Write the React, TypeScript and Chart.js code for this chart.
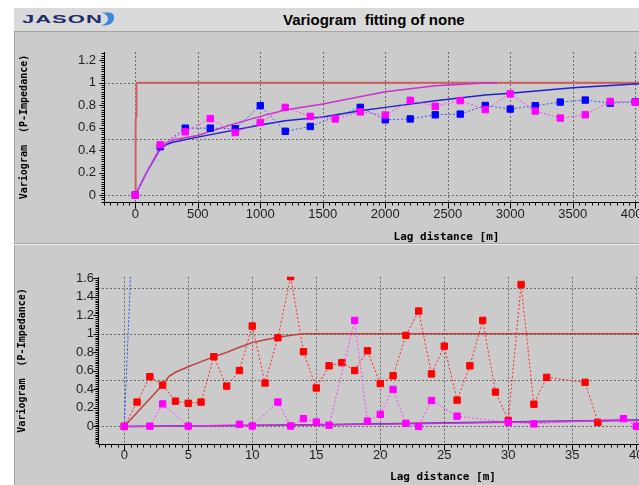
import React, { useEffect, useRef } from 'react';
import { Chart, registerables } from 'chart.js';

Chart.register(...registerables);

// ---------- Top chart (lag in metres) ----------
const TOP_X_TICKS = [0, 500, 1000, 1500, 2000, 2500, 3000, 3500, 4000, 4500, 5000];
const TOP_Y_TICKS = [0, 0.2, 0.4, 0.6, 0.8, 1, 1.2];
const TOP_Y_GRID = [0, 0.5, 1];

const TOP_BLUE_LAG = [0, 200, 400, 600, 800, 1000, 1200, 1400, 1800, 2000, 2200, 2400, 2600, 2800, 3000, 3200, 3400, 3600, 3800, 4000, 4200];
const TOP_BLUE_VAL = [0, 0.43, 0.595, 0.595, 0.59, 0.795, 0.567, 0.61, 0.78, 0.67, 0.677, 0.714, 0.72, 0.797, 0.765, 0.795, 0.827, 0.845, 0.818, 0.83, 0.84];

const TOP_MAG_LAG = [0, 200, 400, 600, 800, 1000, 1200, 1400, 1600, 1800, 2000, 2200, 2400, 2600, 2800, 3000, 3200, 3400, 3600, 3800, 4000, 4200];
const TOP_MAG_VAL = [0, 0.446, 0.5625, 0.68, 0.556, 0.646, 0.78, 0.7, 0.677, 0.74, 0.712, 0.843, 0.79, 0.84, 0.76, 0.9, 0.747, 0.685, 0.714, 0.833, 0.827, 0.8];

const TOP_BLUE_MODEL_LAG = [0, 100, 200, 250, 300, 500, 1000, 1200, 1500, 1800, 2000, 2400, 2800, 3000, 3500, 4000, 4500, 5230];
const TOP_BLUE_MODEL_VAL = [0, 0.22, 0.41, 0.45, 0.47, 0.515, 0.623, 0.66, 0.695, 0.75, 0.78, 0.84, 0.89, 0.905, 0.955, 0.988, 1.0, 1.0];

const TOP_MAG_MODEL_LAG = [0, 100, 200, 250, 300, 500, 750, 1000, 1200, 1500, 2000, 2400, 2800, 2900];
const TOP_MAG_MODEL_VAL = [0, 0.22, 0.41, 0.46, 0.49, 0.53, 0.62, 0.7, 0.757, 0.81, 0.92, 0.972, 0.997, 1.0];

const RED_MODEL_LAG = [0, 1, 2, 3, 3.5, 4, 5, 6, 7, 8, 9, 10, 11, 12, 13, 14, 5230];
const RED_MODEL_VAL = [0, 0.15, 0.3, 0.45, 0.54, 0.585, 0.645, 0.7, 0.753, 0.8, 0.855, 0.905, 0.935, 0.96, 0.985, 1, 1];

// ---------- Bottom chart (short lags) ----------
const BOT_X_TICKS = [0, 5, 10, 15, 20, 25, 30, 35, 40, 45, 50];
const BOT_Y_TICKS = [0, 0.2, 0.4, 0.6, 0.8, 1, 1.2, 1.4, 1.6];
const BOT_Y_GRID = [0, 0.5, 1, 1.5];

const BOT_RED_LAG = [0, 1, 2, 3, 4, 5, 6, 7, 8, 9, 10, 11, 12, 13, 14, 15, 16, 17, 18, 19, 20, 21, 22, 23, 24, 25, 26, 27, 28, 29, 30, 31, 32, 33, 36, 37];
const BOT_RED_VAL = [0, 0.263, 0.537, 0.446, 0.273, 0.25, 0.263, 0.753, 0.435, 0.604, 1.084, 0.469, 0.958, 1.617, 0.807, 0.415, 0.655, 0.689, 0.604, 0.817, 0.462, 0.547, 0.983, 1.246, 0.567, 0.867, 0.284, 0.655, 1.145, 0.371, 0.064, 1.533, 0.24, 0.53, 0.476, 0.044];

const BOT_MAG_LAG = [0, 2, 3, 5, 9, 10, 12, 13, 14, 15, 16, 18, 19, 20, 21, 22, 23, 24, 26, 30, 32, 39, 40];
const BOT_MAG_VAL = [0, 0.003, 0.243, 0.003, 0.023, 0.005, 0.263, 0.005, 0.084, 0.047, 0.013, 1.145, 0.057, 0.13, 0.4, 0.033, 0, 0.28, 0.111, 0.044, 0.027, 0.084, 0.003];

const BOT_BLUE_LAG = [0, 1];
const BOT_BLUE_VAL = [0, 3.3];

const BOT_MAG_MODEL_LAG = [0, 15, 40, 52];
const BOT_MAG_MODEL_VAL = [0, 0.015, 0.064, 0.088];
const BOT_BLUE_MODEL_LAG = [0, 15, 40, 52];
const BOT_BLUE_MODEL_VAL = [0, 0.017, 0.069, 0.094];

const Y_TITLE = 'Variogram  (P-Impedance)';
const X_TITLE = 'Lag distance [m]';

const pts = (xs: number[], ys: number[]) => xs.map((x, i) => ({ x, y: ys[i] }));

function decor(cfg: { xGrid: number[]; yGrid: number[]; xMinor: number; xRatio: number; yMinor: number; yRatio: number }) {
  return {
    id: 'decor',
    beforeDatasetsDraw(chart: any) {
      const { ctx, chartArea: a, scales } = chart;
      const x = scales.x, y = scales.y;
      ctx.save();
      ctx.strokeStyle = '#6a6a6a';
      ctx.lineWidth = 1;
      ctx.setLineDash([2, 2]);
      ctx.beginPath();
      for (const v of cfg.xGrid) {
        const px = Math.round(x.getPixelForValue(v)) + 0.5;
        if (px < a.left || px > a.right) continue;
        ctx.moveTo(px, a.top);
        ctx.lineTo(px, a.bottom);
      }
      for (const v of cfg.yGrid) {
        const py = Math.round(y.getPixelForValue(v)) + 0.5;
        ctx.moveTo(a.left, py);
        ctx.lineTo(a.right, py);
      }
      ctx.stroke();
      ctx.restore();
    },
    afterDraw(chart: any) {
      const { ctx, chartArea: a, scales } = chart;
      const x = scales.x, y = scales.y;
      ctx.save();
      ctx.strokeStyle = '#000';
      ctx.lineWidth = 1;
      ctx.setLineDash([]);
      ctx.beginPath();
      const xl = Math.round(a.left) + 0.5;
      const yb = Math.round(a.bottom) + 0.5;
      ctx.moveTo(xl, Math.round(a.top));
      ctx.lineTo(xl, yb);
      ctx.moveTo(xl, yb);
      ctx.lineTo(a.right, yb);
      const i0 = Math.ceil(x.min / cfg.xMinor), i1 = Math.floor(x.max / cfg.xMinor);
      for (let i = i0; i <= i1; i++) {
        const px = Math.round(x.getPixelForValue(i * cfg.xMinor)) + 0.5;
        if (px < a.left) continue;
        const len = i % cfg.xRatio === 0 ? 6 : 3;
        ctx.moveTo(px, yb);
        ctx.lineTo(px, yb + len);
      }
      const j0 = Math.ceil(y.min / cfg.yMinor - 1e-9), j1 = Math.floor(y.max / cfg.yMinor + 1e-9);
      for (let j = j0; j <= j1; j++) {
        const py = Math.round(y.getPixelForValue(j * cfg.yMinor)) + 0.5;
        const len = j % cfg.yRatio === 0 ? 5 : 3;
        ctx.moveTo(xl, py);
        ctx.lineTo(xl - len, py);
      }
      ctx.stroke();
      ctx.restore();
    },
  };
}

const tickFont = { family: 'Liberation Sans, Arial, sans-serif', size: 13 };
const monoFont = (size: number) => ({ family: 'DejaVu Sans Mono, monospace', size, weight: 'bold' as const });

function expSet(data: any[], color: string, line: string, order: number) {
  return {
    data,
    borderColor: line,
    borderWidth: 1,
    borderDash: [2, 2],
    pointStyle: 'rect',
    pointRadius: 4.5,
    pointBackgroundColor: color,
    pointBorderColor: color,
    pointBorderWidth: 1,
    tension: 0,
    clip: 0,
    order,
  };
}
function modelSet(data: any[], color: string, width: number, order: number) {
  return { data, borderColor: color, borderWidth: width, pointRadius: 0, tension: 0, clip: 0, order };
}

function makeChart(canvas: HTMLCanvasElement, o: any) {
  return new Chart(canvas, {
    type: 'line',
    data: { datasets: o.datasets },
    options: {
      animation: false,
      responsive: false,
      maintainAspectRatio: false,
      events: [],
      layout: { padding: { top: o.padTop, right: o.padRight, bottom: 0, left: 0 } },
      plugins: { legend: { display: false }, tooltip: { enabled: false } },
      scales: {
        x: {
          type: 'linear',
          min: o.xMin,
          max: o.xMax,
          afterBuildTicks: (s: any) => { s.ticks = o.xTicks.map((v: number) => ({ value: v })); },
          afterFit: (s: any) => { s.height = o.xHeight; },
          grid: { display: false, drawTicks: false },
          border: { display: false },
          ticks: { autoSkip: false, maxRotation: 0, padding: o.xPad, font: tickFont, color: '#1e1e1e', callback: (v: any) => String(v) },
          title: { display: true, text: X_TITLE, font: monoFont(11), color: '#000', padding: { top: 0, bottom: o.xTitlePad } },
        },
        y: {
          type: 'linear',
          min: o.yMin,
          max: o.yMax,
          afterBuildTicks: (s: any) => { s.ticks = o.yTicks.map((v: number) => ({ value: v })); },
          afterFit: (s: any) => { s.width = o.yWidth; },
          grid: { display: false, drawTicks: false },
          border: { display: false },
          ticks: { autoSkip: false, padding: o.yPad, font: tickFont, color: '#1e1e1e', callback: (v: any) => String(Math.round(v * 10) / 10) },
          title: { display: true, text: Y_TITLE, font: monoFont(10), color: '#000', padding: { top: o.yTitlePad, bottom: 0 } },
        },
      },
    },
    plugins: [decor(o.decor)],
  } as any);
}

export default function App() {
  const topRef = useRef<HTMLCanvasElement>(null);
  const botRef = useRef<HTMLCanvasElement>(null);

  useEffect(() => {
    const top = makeChart(topRef.current!, {
      datasets: [
        expSet(pts(TOP_BLUE_LAG, TOP_BLUE_VAL), '#0000ff', '#3a5cff', 2),
        expSet(pts(TOP_MAG_LAG, TOP_MAG_VAL), '#ff00ff', '#ff40ff', 1),
        modelSet(pts(TOP_BLUE_MODEL_LAG, TOP_BLUE_MODEL_VAL), '#2020d0', 1.5, 4),
        modelSet(pts(TOP_MAG_MODEL_LAG, TOP_MAG_MODEL_VAL), '#cc30cc', 1.5, 3),
        modelSet(pts(RED_MODEL_LAG, RED_MODEL_VAL), '#d06060', 2, 5),
      ],
      padTop: 20, padRight: 15,
      xMin: -250, xMax: 5230, xTicks: TOP_X_TICKS, xHeight: 43, xPad: 5, xTitlePad: 1,
      yMin: -0.0625, yMax: 1.273, yTicks: TOP_Y_TICKS, yWidth: 90, yPad: 8, yTitlePad: 4.5,
      decor: { xGrid: TOP_X_TICKS, yGrid: TOP_Y_GRID, xMinor: 50, xRatio: 10, yMinor: 0.02, yRatio: 10 },
    });
    const bot = makeChart(botRef.current!, {
      datasets: [
        expSet(pts(BOT_RED_LAG, BOT_RED_VAL), '#ff0000', '#ff2a2a', 2),
        expSet(pts(BOT_MAG_LAG, BOT_MAG_VAL), '#ff00ff', '#ff40ff', 1),
        { ...expSet(pts(BOT_BLUE_LAG, BOT_BLUE_VAL), '#0000ff', '#2a4cff', 3), pointRadius: 0 },
        modelSet(pts(BOT_BLUE_MODEL_LAG, BOT_BLUE_MODEL_VAL), '#3030c8', 1.5, 6),
        modelSet(pts(BOT_MAG_MODEL_LAG, BOT_MAG_MODEL_VAL), '#cc30cc', 1.5, 5),
        modelSet(pts(RED_MODEL_LAG, RED_MODEL_VAL), '#c04040', 1.5, 4),
      ],
      padTop: 1, padRight: 16,
      xMin: -2.05, xMax: 51.85, xTicks: BOT_X_TICKS, xHeight: 41, xPad: 4, xTitlePad: 1.7,
      yMin: -0.19, yMax: 1.616, yTicks: BOT_Y_TICKS, yWidth: 84, yPad: 4, yTitlePad: 2.8,
      decor: { xGrid: BOT_X_TICKS, yGrid: BOT_Y_GRID, xMinor: 0.5, xRatio: 10, yMinor: 0.02, yRatio: 10 },
    });
    return () => { top.destroy(); bot.destroy(); };
  }, []);

  return (
    <div style={{ position: 'fixed', left: 0, top: 0, width: 639, height: 485, overflow: 'hidden', background: '#ffffff' }}>
      <div style={{ position: 'absolute', left: 14, top: 8, width: 800, height: 23, background: '#dadada', borderBottom: '1px solid #a4a4a4' }} />
      <div style={{ position: 'absolute', left: 22, top: 11, height: 16, lineHeight: '16px', fontFamily: 'Liberation Sans, Arial, sans-serif', fontWeight: 'bold', fontSize: 11, color: '#1c2c6e', letterSpacing: 0.5, transform: 'scaleX(2)', transformOrigin: 'left center', whiteSpace: 'nowrap' }}>JASON</div>
      <svg style={{ position: 'absolute', left: 101, top: 12 }} width={16} height={14} viewBox="0 0 16 14">
        <path d="M1,0.5 L8,0.5 Q14,1 13,7 Q12,12.5 4,13.5 L0,13.5 Q7,11 7,7 Q7,2.5 1,0.5 Z" fill="#3d86dc" />
      </svg>
      <div style={{ position: 'absolute', left: 283, top: 8, height: 24, lineHeight: '24px', fontFamily: 'Liberation Sans, Arial, sans-serif', fontWeight: 'bold', fontSize: 15, color: '#000', whiteSpace: 'pre' }}>Variogram  fitting of none</div>
      <div style={{ position: 'absolute', left: 14, top: 32, width: 800, height: 211, background: '#cbcbcb', borderLeft: '1px solid #a6a6a6', borderBottom: '1px solid #a6a6a6' }} />
      <div style={{ position: 'absolute', left: 14, top: 244, width: 800, height: 1, background: '#ececec' }} />
      <div style={{ position: 'absolute', left: 14, top: 245, width: 800, height: 260, background: '#cbcbcb', borderLeft: '1px solid #a6a6a6' }} />
      <canvas ref={topRef} width={790} height={213} style={{ position: 'absolute', left: 14, top: 32, width: 790, height: 213 }} />
      <canvas ref={botRef} width={790} height={220} style={{ position: 'absolute', left: 14, top: 265, width: 790, height: 220 }} />
    </div>
  );
}
